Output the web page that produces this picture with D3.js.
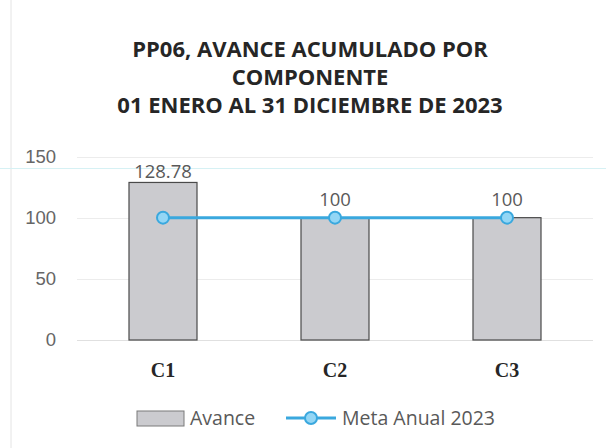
<!DOCTYPE html>
<html>
<head>
<meta charset="utf-8">
<script src="https://cdn.jsdelivr.net/npm/d3@7"></script>
<style>
  body { margin: 0; background: #fff; }
  svg { display: block; font-family: "Open Sans", sans-serif; }
</style>
</head>
<body>
<div id="chart"></div>
<script>
var categories = ['C1', 'C2', 'C3']
var avance = [128.78, 100, 100]
var meta = [100, 100, 100]
var avanceLabels = ['128.78', '100', '100']
var yTicks = [0, 50, 100, 150]
var titleLines = ['PP06, AVANCE ACUMULADO POR', 'COMPONENTE', '01 ENERO AL 31 DICIEMBRE DE 2023']

var width = 606, height = 448
var svg = d3.select('#chart').append('svg').attr('width', width).attr('height', height)

// faint page edge from the scan
svg.append('line').attr('x1', 11).attr('x2', 11).attr('y1', 0).attr('y2', height)
  .attr('stroke', '#e4e4e4').attr('stroke-width', 1)
svg.append('line').attr('x1', 0).attr('x2', width).attr('y1', 168.5).attr('y2', 168.5)
  .attr('stroke', '#d6f1f4').attr('stroke-width', 1)

svg.selectAll('text.title').data(titleLines).join('text')
  .attr('class', 'title')
  .attr('x', 310).attr('y', (d, i) => 57 + i * 28)
  .attr('text-anchor', 'middle')
  .attr('font-weight', 'bold').attr('font-size', 22).attr('fill', '#262626')
  .text(d => d)

var x = d3.scaleBand().domain(categories).range([77, 593]).paddingInner(0.6).paddingOuter(0.3)
var y = d3.scaleLinear().domain([0, 150]).range([340, 156.5])

// gridlines
svg.selectAll('line.grid').data(yTicks).join('line')
  .attr('class', 'grid')
  .attr('x1', 77).attr('x2', 593)
  .attr('y1', d => Math.round(y(d)) + .5).attr('y2', d => Math.round(y(d)) + .5)
  .attr('stroke', d => d == 0 ? '#e0e0e0' : '#ececec')

var yAxis = svg.append('g').attr('transform', 'translate(56,0)')
  .call(d3.axisLeft(y).tickValues(yTicks).tickSize(0).tickPadding(0))
yAxis.select('.domain').remove()
yAxis.selectAll('text').attr('font-size', 18.5).attr('fill', '#666').attr('font-family', null)

var bw = 68
svg.selectAll('rect.bar').data(avance).join('rect')
  .attr('class', 'bar')
  .attr('x', (d, i) => x(categories[i]) + x.bandwidth() / 2 - bw / 2)
  .attr('width', bw)
  .attr('y', d => y(d))
  .attr('height', d => y(0) - y(d))
  .attr('fill', '#cbcbcf').attr('stroke', '#4a4a4a').attr('stroke-width', 1.2)

svg.selectAll('text.lab').data(avance).join('text')
  .attr('class', 'lab')
  .attr('x', (d, i) => x(categories[i]) + x.bandwidth() / 2)
  .attr('y', d => y(d) - 4 - (d == 100 ? 8 : 0))
  .attr('text-anchor', 'middle').attr('font-size', 18.5).attr('fill', '#595959')
  .text((d, i) => avanceLabels[i])

var line = d3.line()
  .x((d, i) => x(categories[i]) + x.bandwidth() / 2)
  .y(d => y(d))
svg.append('path').datum(meta).attr('d', line)
  .attr('fill', 'none').attr('stroke', '#3aa8de').attr('stroke-width', 3)

svg.selectAll('circle.pt').data(meta).join('circle')
  .attr('class', 'pt')
  .attr('cx', (d, i) => x(categories[i]) + x.bandwidth() / 2)
  .attr('cy', d => y(d))
  .attr('r', 6)
  .attr('fill', '#93d6f5').attr('stroke', '#3aa8de').attr('stroke-width', 2)

svg.selectAll('text.cat').data(categories).join('text')
  .attr('class', 'cat')
  .attr('x', d => x(d) + x.bandwidth() / 2)
  .attr('y', 377)
  .attr('text-anchor', 'middle').attr('font-weight', 'bold').attr('font-size', 20)
  .attr('font-family', '"Liberation Serif", serif').attr('fill', '#262626')
  .text(d => d)

// legend
var lg = svg.append('g')
lg.append('rect').attr('x', 137).attr('y', 411).attr('width', 47).attr('height', 15)
  .attr('fill', '#cbcbcf').attr('stroke', '#7a7a7a')
lg.append('text').attr('x', 190).attr('y', 425).attr('font-size', 19.5).attr('fill', '#595959').text('Avance')
lg.append('line').attr('x1', 286).attr('x2', 336).attr('y1', 418).attr('y2', 418)
  .attr('stroke', '#3aa8de').attr('stroke-width', 3)
lg.append('circle').attr('cx', 311).attr('cy', 418).attr('r', 6)
  .attr('fill', '#93d6f5').attr('stroke', '#3aa8de').attr('stroke-width', 2)
lg.append('text').attr('x', 342).attr('y', 425).attr('font-size', 19.5).attr('fill', '#595959').text('Meta Anual 2023')
</script>
</body>
</html>
